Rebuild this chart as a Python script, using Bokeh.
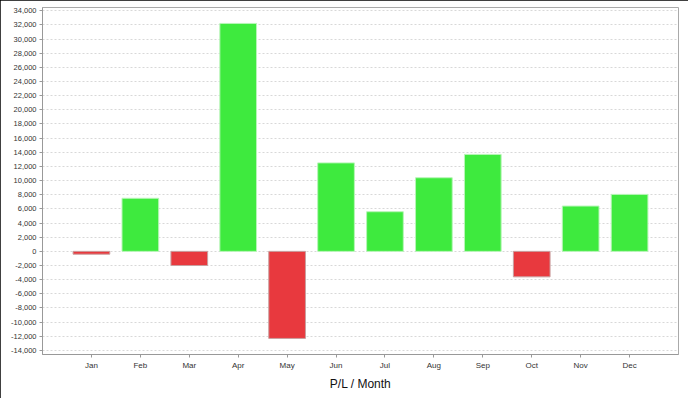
from bokeh.plotting import figure
from bokeh.models import ColumnDataSource, FactorRange, Range1d, SingleIntervalTicker, NumeralTickFormatter
from bokeh.embed import file_html
from bokeh.resources import INLINE

months = ["Jan", "Feb", "Mar", "Apr", "May", "Jun", "Jul", "Aug", "Sep", "Oct", "Nov", "Dec"]
pl = [-400, 7500, -2000, 32200, -12300, 12500, 5600, 10400, 13700, -3600, 6400, 8050]

colors = ["#3EEA3E" if v >= 0 else "#E8393E" for v in pl]
lines = ["#B8F5B8" if v >= 0 else "#C8A0A0" for v in pl]
src = ColumnDataSource(dict(m=months, v=pl, c=colors, lc=lines))

p = figure(width=688, height=398, output_backend="svg", toolbar_location=None,
           x_range=FactorRange(*months, range_padding=1/12),
           y_range=Range1d(-14570, 34450),
           min_border_left=42, min_border_right=10, min_border_top=7, min_border_bottom=44)
p.styles = {"position": "absolute", "left": "0px", "top": "0px",
            "outline": "2px solid #000000", "outline-offset": "-2px"}

p.vbar(x="m", top="v", bottom=0, width=0.75, source=src, fill_color="c",
       line_color="lc", line_width=1)

p.background_fill_color = "white"
p.border_fill_color = "white"
p.outline_line_color = "#AAAAAA"
p.outline_line_width = 1

p.xgrid.grid_line_color = None
p.ygrid.grid_line_color = "#D8D8D8"
p.ygrid.grid_line_dash = "2 2"
p.ygrid.ticker = SingleIntervalTicker(interval=2000)

p.yaxis.ticker = SingleIntervalTicker(interval=2000)
p.yaxis.formatter = NumeralTickFormatter(format="0,0")
p.yaxis.minor_tick_line_color = None
p.yaxis.major_tick_out = 3
p.yaxis.major_tick_in = 0
p.yaxis.major_label_standoff = 2
p.yaxis.major_label_text_font = "Liberation Sans"
p.yaxis.major_label_text_font_size = "7.5px"
p.yaxis.major_label_text_color = "#333333"
p.yaxis.axis_line_color = "#999999"
p.yaxis.major_tick_line_color = "#999999"

p.xaxis.major_tick_out = 3
p.xaxis.major_tick_in = 0
p.xaxis.major_label_standoff = 3
p.xaxis.major_label_text_font = "Liberation Sans"
p.xaxis.major_label_text_font_size = "8px"
p.xaxis.major_label_text_color = "#333333"
p.xaxis.axis_line_color = "#999999"
p.xaxis.major_tick_line_color = "#999999"
p.xaxis.axis_label = "P/L / Month"
p.xaxis.axis_label_text_font = "Liberation Sans"
p.xaxis.axis_label_text_font_size = "12px"
p.xaxis.axis_label_text_font_style = "normal"
p.xaxis.axis_label_text_color = "#111111"
p.xaxis.axis_label_standoff = 4

open("out.html", "w").write(file_html(p, INLINE))
